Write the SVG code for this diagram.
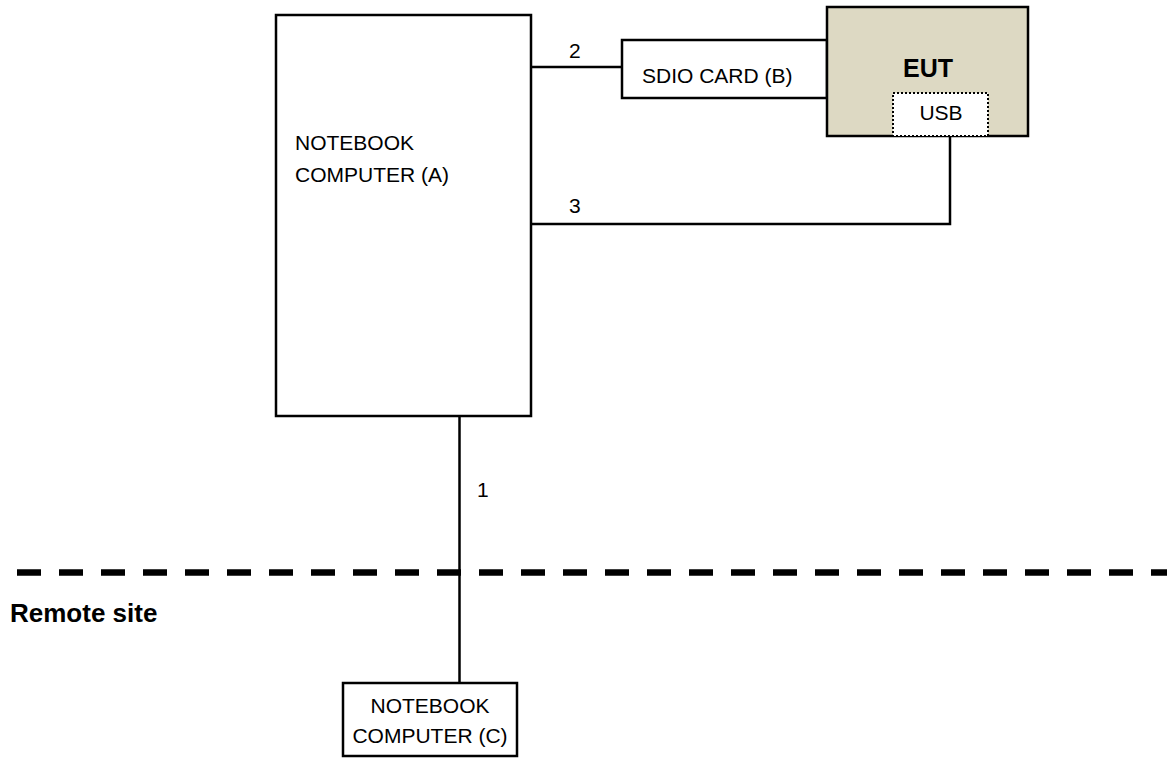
<svg xmlns="http://www.w3.org/2000/svg" width="1167" height="758" viewBox="0 0 1167 758">
<style>
.box{fill:#fff;stroke:#000;stroke-width:2.5}
.eut{fill:#DDD9C3;stroke:#000;stroke-width:2.5}
.dot{fill:#fff;stroke:#000;stroke-width:2;stroke-dasharray:2 2}
.ln{fill:none;stroke:#000;stroke-width:2.5}
.t{font-family:"Liberation Sans",Arial,sans-serif;font-size:21px;fill:#000}
.b{font-family:"Liberation Sans",Arial,sans-serif;font-size:25px;font-weight:bold;fill:#000}
</style>
<rect width="1167" height="758" fill="#fff"/>
<g id="connectors">
<line class="ln" x1="531" y1="67" x2="622" y2="67"/>
<polyline class="ln" points="531,224 950,224 950,136"/>
<line class="ln" x1="459.5" y1="416" x2="459.5" y2="683"/>
<text class="t" x="569" y="58">2</text>
<text class="t" x="569" y="213">3</text>
<text class="t" x="477" y="497">1</text>
</g>
<g id="boundary">
<line x1="17" y1="572.5" x2="1167" y2="572.5" stroke="#000" stroke-width="6.5" stroke-dasharray="24 18"/>
<text class="b" x="10" y="622" style="font-size:26px">Remote site</text>
</g>
<g id="notebook-a">
<rect class="box" x="276" y="15" width="255" height="401"/>
<text class="t" x="295" y="150">NOTEBOOK</text>
<text class="t" x="295" y="182">COMPUTER (A)</text>
</g>
<g id="sdio-card">
<rect class="box" x="622" y="40" width="205" height="58"/>
<text class="t" x="642" y="83">SDIO CARD (B)</text>
</g>
<g id="eut">
<rect class="eut" x="827" y="7" width="201" height="129"/>
<text class="b" x="928" y="77" text-anchor="middle">EUT</text>
<g id="usb">
<rect class="dot" x="893" y="93" width="95" height="43"/>
<text class="t" x="941" y="120" text-anchor="middle">USB</text>
</g>
</g>
<g id="notebook-c">
<rect class="box" x="343" y="683" width="174" height="73"/>
<text class="t" x="430" y="713" text-anchor="middle">NOTEBOOK</text>
<text class="t" x="430" y="743" text-anchor="middle">COMPUTER (C)</text>
</g>
</svg>
